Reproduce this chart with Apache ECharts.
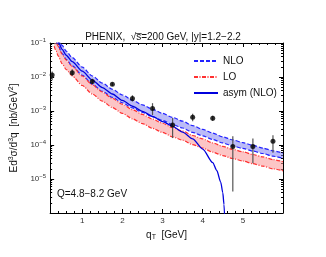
<!DOCTYPE html>
<html><head><meta charset="utf-8">
<script src="https://cdn.jsdelivr.net/npm/echarts@6/dist/echarts.min.js"></script>
<style>html,body{margin:0;padding:0;background:#fff}#c{width:326px;height:257px}</style>
</head><body><div id="c"></div>
<script>
// theory curves, log10 of the cross section
const qGrid = [0.3,0.35,0.4,0.5,0.6,0.75,1.0,1.25,1.5,1.75,2.0,2.25,2.5,2.75,3.0,3.25,3.5,3.75,4.0,4.25,4.5,4.75,5.0,5.25,5.5,5.75,6.0];
const nloUpperLog = [-0.55,-0.70,-0.84,-1.07,-1.24,-1.43,-1.71,-1.97,-2.18,-2.36,-2.53,-2.68,-2.82,-2.95,-3.07,-3.19,-3.30,-3.43,-3.54,-3.65,-3.76,-3.85,-3.93,-4.01,-4.09,-4.17,-4.24];
const nloLowerLog = [-0.79,-0.94,-1.08,-1.31,-1.48,-1.67,-1.95,-2.21,-2.42,-2.60,-2.76,-2.91,-3.04,-3.17,-3.28,-3.40,-3.50,-3.63,-3.73,-3.84,-3.94,-4.03,-4.10,-4.18,-4.25,-4.33,-4.39];
const loUpperLog = [-0.81,-0.96,-1.10,-1.33,-1.50,-1.69,-1.97,-2.23,-2.44,-2.63,-2.80,-2.96,-3.10,-3.24,-3.36,-3.49,-3.59,-3.72,-3.82,-3.94,-4.04,-4.13,-4.20,-4.28,-4.35,-4.43,-4.49];
const loLowerLog = [-1.09,-1.24,-1.38,-1.61,-1.78,-1.97,-2.25,-2.50,-2.71,-2.90,-3.07,-3.23,-3.37,-3.51,-3.63,-3.76,-3.86,-3.99,-4.09,-4.21,-4.31,-4.40,-4.47,-4.55,-4.62,-4.70,-4.76];
const asymQ = [0.3,0.35,0.4,0.5,0.6,0.75,1.0,1.25,1.5,1.75,2.0,2.25,2.5,2.75,3.0,3.25,3.5,3.75,4.0,4.25,4.35,4.45,4.5,4.53,4.56];
const asymLog = [-0.67,-0.82,-0.96,-1.19,-1.36,-1.55,-1.83,-2.09,-2.31,-2.50,-2.69,-2.86,-3.01,-3.16,-3.31,-3.45,-3.62,-3.82,-4.12,-4.52,-4.75,-5.1,-5.4,-5.75,-6.5];
// PHENIX data points
const dataQ = [0.25,0.75,1.25,1.75,2.25,2.75,3.25,3.75,4.25,4.75,5.25,5.75];
const dataVal = [1.15e-2,1.34e-2,7.4e-3,6.1e-3,2.35e-3,1.18e-3,3.9e-4,6.5e-4,6.1e-4,9.1e-5,9.1e-5,1.29e-4];
const dataHi = [1.44e-2,1.7e-2,8.9e-3,6.9e-3,2.9e-3,1.7e-3,6.2e-4,8.3e-4,7.3e-4,1.82e-4,1.55e-4,1.95e-4];
const dataLo = [8.1e-3,1.07e-2,6.2e-3,5.4e-3,1.9e-3,7.6e-4,1.6e-4,5.0e-4,5.1e-4,4.3e-6,2.9e-5,5.9e-5];
// tick labels
const xLabels = [1,2,3,4,5];
const yDecades = [1e-6,1e-5,1e-4,1e-3,1e-2,1e-1];
const yLabelMap = {'-1':'10{s|−1}','-2':'10{s|−2}','-3':'10{s|−3}','-4':'10{s|−4}','-5':'10{s|−5}'};

const P = v => Math.pow(10, v);
const toPts = (qs, ls) => qs.map((q, i) => [q, P(ls[i])]);
const xMinor = [];
for (let k = 2; k <= 30; k++) { const v = +(k * 0.2).toFixed(1); if (Math.abs(v - Math.round(v)) > 1e-6) xMinor.push(v); }
const yMinor = [];
for (let d = -6; d < -1; d++) for (let m = 2; m <= 9; m++) yMinor.push(m * Math.pow(10, d));

const font = "'Liberation Sans', Arial, sans-serif";
const chart = echarts.init(document.getElementById('c'), null, {renderer: 'canvas'});

function band(upper, lower, color) {
  return {
    type: 'custom', clip: true, silent: true, z: 1,
    data: [[0]],
    renderItem: function (params, api) {
      const pts = [];
      for (let i = 0; i < qGrid.length; i++) pts.push(api.coord([qGrid[i], P(upper[i])]));
      for (let i = qGrid.length - 1; i >= 0; i--) pts.push(api.coord([qGrid[i], P(lower[i])]));
      return {type: 'polygon', shape: {points: pts}, style: {fill: color, stroke: null}};
    }
  };
}
function curve(name, ls, color, type, width, qs) {
  return {
    name: name, type: 'line', data: toPts(qs || qGrid, ls), showSymbol: false, symbol: 'none',
    smooth: 0.25, smoothMonotone: 'x', clip: true, z: 3,
    lineStyle: {color: color, width: width, type: type}, itemStyle: {color: color}
  };
}
const baseX = {type: 'value', min: 0.2, max: 6, gridIndex: 0};
const baseY = {type: 'log', logBase: 10, min: 1e-6, max: 1e-1, gridIndex: 0};
const lineBlack = {show: true, lineStyle: {color: '#000', width: 1}};

chart.setOption({
  animation: false,
  backgroundColor: '#fff',
  textStyle: {fontFamily: font},
  title: {
    text: 'PHENIX,  √s̅=200 GeV, |y|=1.2−2.2', left: 'center', top: 27,
    textStyle: {fontSize: 10, fontWeight: 'normal', color: '#111', fontFamily: font}
  },
  grid: {left: 43, top: 43, width: 240, height: 170, containLabel: false},
  legend: {
    orient: 'vertical', left: 188, top: 51, itemWidth: 24, itemHeight: 10, itemGap: 6,
    data: ['NLO', 'LO', 'asym (NLO)'],
    itemStyle: {opacity: 0},
    textStyle: {fontSize: 10, color: '#111', fontFamily: font}
  },
  xAxis: [
    Object.assign({}, baseX, {
      position: 'bottom', axisLine: lineBlack,
      axisTick: {show: true, inside: true, length: 4, customValues: xLabels, lineStyle: {color: '#000'}},
      axisLabel: {show: true, customValues: xLabels, fontSize: 8, color: '#333', margin: 4, fontFamily: font},
      splitLine: {show: false},
      name: 'q{s|T}  [GeV]', nameLocation: 'middle', nameGap: 13,
      nameTextStyle: {fontSize: 10, color: '#111', fontFamily: font, rich: {s: {fontSize: 7, padding: [5, 0, 0, 0]}}}
    }),
    Object.assign({}, baseX, {
      position: 'bottom', axisLine: {show: false},
      axisTick: {show: true, inside: true, length: 2, customValues: xMinor, lineStyle: {color: '#000'}},
      axisLabel: {show: false}, splitLine: {show: false}
    }),
    Object.assign({}, baseX, {
      position: 'top', axisLine: lineBlack,
      axisTick: {show: true, inside: true, length: 4, customValues: xLabels, lineStyle: {color: '#000'}},
      axisLabel: {show: false}, splitLine: {show: false}
    }),
    Object.assign({}, baseX, {
      position: 'top', axisLine: {show: false},
      axisTick: {show: true, inside: true, length: 2, customValues: xMinor, lineStyle: {color: '#000'}},
      axisLabel: {show: false}, splitLine: {show: false}
    })
  ],
  yAxis: [
    Object.assign({}, baseY, {
      position: 'left', axisLine: lineBlack,
      axisTick: {show: true, inside: true, length: 4, customValues: yDecades, lineStyle: {color: '#000'}},
      axisLabel: {
        show: true, customValues: yDecades.slice(1), fontSize: 8, color: '#333', margin: 4, fontFamily: font,
        formatter: v => yLabelMap[String(Math.round(Math.log10(v)))] || '',
        rich: {s: {fontSize: 6, padding: [0, 0, 6, 0], color: '#333'}}
      },
      splitLine: {show: false},
      name: 'Ed{s|3}σ/d{s|3}q  [nb/GeV{s|2}]', nameLocation: 'middle', nameGap: 27,
      nameTextStyle: {fontSize: 10, color: '#111', fontFamily: font, rich: {s: {fontSize: 7, padding: [0, 0, 6, 0]}}}
    }),
    Object.assign({}, baseY, {
      position: 'left', axisLine: {show: false},
      axisTick: {show: true, inside: true, length: 2, customValues: yMinor, lineStyle: {color: '#000'}},
      axisLabel: {show: false}, splitLine: {show: false}
    }),
    Object.assign({}, baseY, {
      position: 'right', axisLine: lineBlack,
      axisTick: {show: true, inside: true, length: 4, customValues: yDecades, lineStyle: {color: '#000'}},
      axisLabel: {show: false}, splitLine: {show: false}
    }),
    Object.assign({}, baseY, {
      position: 'right', axisLine: {show: false},
      axisTick: {show: true, inside: true, length: 2, customValues: yMinor, lineStyle: {color: '#000'}},
      axisLabel: {show: false}, splitLine: {show: false}
    })
  ],
  graphic: [{
    type: 'text', left: 57, top: 189,
    style: {text: 'Q=4.8−8.2 GeV', fontSize: 10, fill: '#111', fontFamily: font}
  }],
  series: [
    band(nloUpperLog, nloLowerLog, 'rgba(120,120,240,0.5)'),
    band(loUpperLog, loLowerLog, 'rgba(250,150,150,0.55)'),
    curve('NLO', nloUpperLog, '#2222ff', [4, 2], 1.2),
    curve('NLO', nloLowerLog, '#2222ff', [4, 2], 1.2),
    curve('LO', loUpperLog, '#ff3030', [4, 1.5, 1, 1.5], 1.2),
    curve('LO', loLowerLog, '#ff3030', [4, 1.5, 1, 1.5], 1.2),
    curve('asym (NLO)', asymLog, '#0000dd', 'solid', 1.3, asymQ),
    {
      type: 'custom', clip: true, z: 5, silent: true,
      data: dataQ.map((q, i) => [q, dataLo[i], dataHi[i]]),
      renderItem: function (params, api) {
        const a = api.coord([api.value(0), api.value(1)]);
        const b = api.coord([api.value(0), api.value(2)]);
        return {type: 'line', shape: {x1: a[0], y1: a[1], x2: b[0], y2: b[1]}, style: {stroke: '#555', lineWidth: 1.2}};
      }
    },
    {
      type: 'scatter', z: 6, silent: true, symbol: 'circle', symbolSize: 5,
      data: dataQ.map((q, i) => [q, dataVal[i]]),
      itemStyle: {color: '#000'}
    }
  ]
});
</script></body></html>
